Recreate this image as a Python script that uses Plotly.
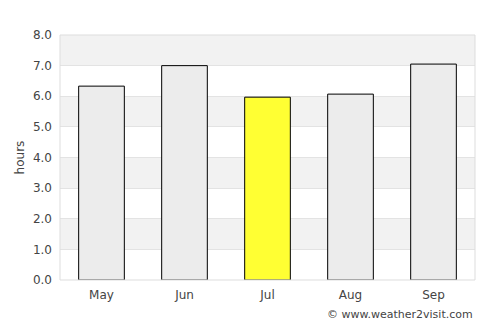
import plotly.graph_objects as go

months = ["May", "Jun", "Jul", "Aug", "Sep"]
hours = [6.33, 7.0, 5.97, 6.07, 7.05]
highlight = "Jul"
y_ticks = [0, 1, 2, 3, 4, 5, 6, 7, 8]

colors = ["#ffff33" if m == highlight else "#ececec" for m in months]

fig = go.Figure()
fig.add_trace(go.Bar(
    x=months, y=hours, marker=dict(color=colors, line=dict(color="#000000", width=1)),
    width=0.55, hoverinfo="x+y",
))

shapes = []
for i in range(0, 8):
    if i % 2 == 1:
        shapes.append(dict(type="rect", xref="paper", yref="y", x0=0, x1=1, y0=i, y1=i + 1,
                           fillcolor="#f2f2f2", line=dict(width=0), layer="below"))
shapes.append(dict(type="rect", xref="paper", yref="paper", x0=0, x1=1, y0=0, y1=1,
                   line=dict(color="#dddddd", width=1), fillcolor="rgba(0,0,0,0)", layer="above"))

fig.update_layout(
    width=500, height=325,
    margin=dict(l=60, r=25, t=35, b=45),
    paper_bgcolor="white", plot_bgcolor="white",
    font=dict(family="DejaVu Sans", size=12, color="#444444"),
    showlegend=False,
    shapes=shapes,
    xaxis=dict(showgrid=False, zeroline=False, showline=False, ticks="", tickfont=dict(size=12),
               ticklabelstandoff=6),
    yaxis=dict(range=[0, 8], tickvals=y_ticks, ticktext=[f"{v:.1f}" for v in y_ticks],
               showgrid=True, gridcolor="#e3e3e3", zeroline=False, showline=False,
               ticklabelstandoff=7,
               title=dict(text="hours", font=dict(size=12), standoff=5), tickfont=dict(size=12)),
    annotations=[dict(text="© www.weather2visit.com", xref="paper", yref="paper", x=1.0, y=-0.105,
                      xanchor="right", yanchor="top", showarrow=False, font=dict(size=11, color="#444444"))],
    bargap=0.45,
)

fig.write_html("out.html")
